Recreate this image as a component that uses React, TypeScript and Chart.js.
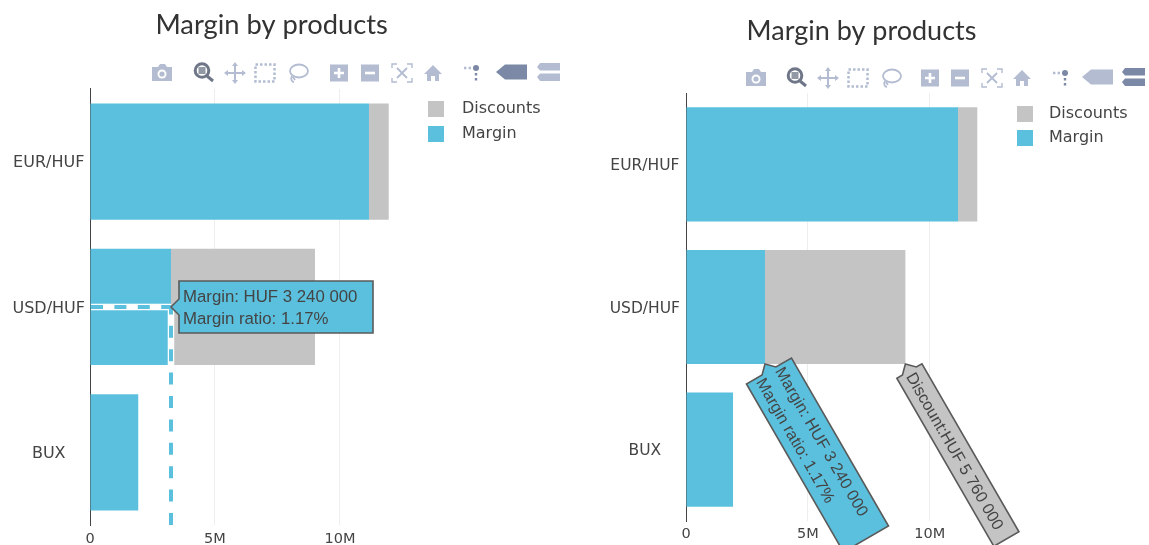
import React, { useEffect, useRef } from "react";
import { Chart, registerables } from "chart.js";

Chart.register(...registerables);

const categories = ["EUR/HUF", "USD/HUF", "BUX"];
const marginValues = [11160000, 3240000, 1930000];
const discountValues = [790000, 5760000, 0];
const xTickValues = [0, 5000000, 10000000];
const xTickLabels = ["0", "5M", "10M"];
const xMax = 12550000;
const titleText = "Margin by products";
const marginLabel = "Margin";
const discountLabel = "Discounts";
const marginTipLines = ["Margin: HUF 3 240 000", "Margin ratio: 1.17%"];
const discountTipLines = ["Discount:HUF 5 760 000"];
const BLUE = "#5bc0de";
const GREY = "#c4c4c4";

const swatch = (color: string, w: number) => {
  const c = document.createElement("canvas");
  c.width = w;
  c.height = 16;
  const ctx = c.getContext("2d")!;
  ctx.fillStyle = color;
  ctx.fillRect(0, 0, 16, 16);
  return c;
};

function drawTip(ctx: CanvasRenderingContext2D, tipX: number, tipY: number, angle: number, w: number, h: number, fill: string, lines: string[], textX: number, fontSize: number) {
  ctx.save();
  ctx.translate(tipX, tipY);
  ctx.rotate(angle);
  ctx.beginPath();
  ctx.moveTo(0, 0);
  ctx.lineTo(8, -8);
  ctx.lineTo(8, -h / 2);
  ctx.lineTo(8 + w, -h / 2);
  ctx.lineTo(8 + w, h / 2);
  ctx.lineTo(8, h / 2);
  ctx.lineTo(8, 8);
  ctx.closePath();
  ctx.fillStyle = fill;
  ctx.fill();
  ctx.lineWidth = 1.6;
  ctx.strokeStyle = "#5a5a5a";
  ctx.stroke();
  ctx.fillStyle = "#444444";
  ctx.font = `${fontSize}px "Liberation Sans", Arial, sans-serif`;
  ctx.textBaseline = "middle";
  ctx.textAlign = "left";
  const lh = 22;
  lines.forEach((l, i) => ctx.fillText(l, textX, (i - (lines.length - 1) / 2) * lh + 1.5));
  ctx.restore();
}

const spikePlugin = {
  id: "spikes",
  afterDatasetsDraw(chart: any) {
    const ctx = chart.ctx;
    const x = chart.scales.x.getPixelForValue(marginValues[1]);
    const y = chart.scales.y.getPixelForValue(1);
    const left = chart.chartArea.left + 1;
    const bottom = chart.chartArea.bottom;
    ctx.save();
    for (const [w, color, dash] of [[6.5, "#ffffff", []], [4, BLUE, [12, 11.4]]] as any) {
      ctx.lineWidth = w;
      ctx.strokeStyle = color;
      ctx.setLineDash(dash);
      ctx.beginPath();
      ctx.moveTo(left, y);
      ctx.lineTo(x, y);
      ctx.stroke();
      ctx.beginPath();
      ctx.moveTo(x, bottom);
      ctx.lineTo(x, y);
      ctx.stroke();
    }
    ctx.restore();
  },
  afterDraw(chart: any) {
    drawTip(chart.ctx, chart.scales.x.getPixelForValue(marginValues[1]), chart.scales.y.getPixelForValue(1), 0, 194, 52, BLUE, marginTipLines, 12, 16.8);
  },
};

const rotatedTipsPlugin = {
  id: "rotatedTips",
  afterDraw(chart: any) {
    const bar = chart.getDatasetMeta(0).data[1];
    const bottom = bar.y + bar.height / 2;
    const a = Math.PI / 3;
    const x = chart.scales.x;
    drawTip(chart.ctx, x.getPixelForValue(marginValues[1]), bottom, a, 194, 52, BLUE, marginTipLines, 11, 16.3);
    drawTip(chart.ctx, x.getPixelForValue(marginValues[1] + discountValues[1]), bottom, a, 194, 29, GREY, discountTipLines, 11, 16.3);
  },
};

const FONT = '"DejaVu Sans", Verdana, sans-serif';

type Cfg = {
  axisW: number; padLeft: number; padRight: number; titleTop: number; titleBottom: number; titleSize: number;
  xH: number; xPad: number; yPad: number; yFont: number; legendLeft: number; legendTop: number; swatchW: number; plugin: any;
};

function makeChart(canvas: HTMLCanvasElement, cfg: Cfg) {
  const legendPlacer = {
    id: "legendPlacer",
    afterLayout(chart: any) {
      const lg = chart.legend;
      lg.left = cfg.legendLeft;
      lg.top = cfg.legendTop;
      lg.width = 135;
      lg.height = 70;
      lg.right = lg.left + lg.width;
      lg.bottom = lg.top + lg.height;
    },
  };
  return new Chart(canvas, {
    type: "bar",
    data: {
      labels: categories,
      datasets: [
        { label: marginLabel, data: marginValues, backgroundColor: BLUE, categoryPercentage: 1, barPercentage: 0.8 },
        { label: discountLabel, data: discountValues, backgroundColor: GREY, categoryPercentage: 1, barPercentage: 0.8 },
      ],
    },
    plugins: [cfg.plugin, legendPlacer],
    options: {
      indexAxis: "y",
      animation: false,
      responsive: false,
      devicePixelRatio: 1,
      layout: { padding: { left: cfg.padLeft, right: cfg.padRight, top: 0, bottom: 0 } },
      scales: {
        x: {
          stacked: true,
          min: 0,
          max: xMax,
          afterBuildTicks: (s: any) => { s.ticks = xTickValues.map((value) => ({ value })); },
          afterFit: (s: any) => { s.height = cfg.xH; },
          grid: { color: "#eeeeee", drawTicks: false },
          border: { display: false },
          ticks: {
            padding: cfg.xPad, maxRotation: 0, color: "#444444", font: { family: FONT, size: 14.5 },
            callback: (_v: any, i: number) => xTickLabels[i],
          },
        },
        y: {
          stacked: true,
          afterFit: (s: any) => { s.width = cfg.axisW; },
          grid: { display: false, drawTicks: false },
          border: { display: true, color: "#444444", width: 1 },
          ticks: { padding: cfg.yPad, labelOffset: 1.5, crossAlign: "center", color: "#444444", font: { family: FONT, size: cfg.yFont } },
        },
      },
      plugins: {
        tooltip: { enabled: false },
        title: {
          display: true, text: titleText, color: "#333333",
          font: { family: '"Lato", "Open Sans", sans-serif', size: cfg.titleSize, weight: "normal" },
          padding: { top: cfg.titleTop, bottom: cfg.titleBottom },
        },
        legend: {
          position: "right", align: "start", reverse: true,
          labels: {
            usePointStyle: true, pointStyleWidth: cfg.swatchW, boxHeight: 16, padding: 8.5, color: "#444444",
            font: { family: FONT, size: 16 },
            generateLabels: (chart: any) =>
              Chart.defaults.plugins.legend.labels.generateLabels(chart).map((it: any) => ({
                ...it,
                pointStyle: swatch(it.datasetIndex === 0 ? BLUE : GREY, cfg.swatchW),
              })),
          },
        },
      },
    } as any,
  });
}

const LIGHT = "#b3bcd1";
const DARK = "#7b89a6";
const ZOOMC = "#6f7687";

function Tool({ x, y, children }: any) {
  return <g transform={`translate(${x} ${y})`}>{children}</g>;
}

function Modebar({ xs, y, compareDark }: { xs: number[]; y: number; compareDark: boolean }) {
  return (
    <svg width={1149} height={545} style={{ position: "absolute", left: 0, top: 0, pointerEvents: "none" }}>
      <Tool x={xs[0]} y={y}>
        <path d="M-10 -6 L-4 -6 L-2 -9 L3 -9 L5 -6 L10 -6 L10 8 L-10 8 Z" fill={LIGHT} />
        <circle r={4.5} cy={1} fill="#fff" />
        <circle r={2.6} cy={1} fill={LIGHT} />
      </Tool>
      <Tool x={xs[1]} y={y}>
        <circle r={6.8} cx={-2} cy={-2.5} fill="none" stroke={ZOOMC} strokeWidth={3} />
        <rect x={-5.5} y={-6} width={7} height={7} fill={ZOOMC} opacity={0.75} />
        <path d="M3 3 L9 8" stroke={ZOOMC} strokeWidth={3} />
      </Tool>
      <Tool x={xs[2]} y={y}>
        <path d="M0 -9 V9 M-9 0 H9" stroke={LIGHT} strokeWidth={2} />
        <path d="M0 -11 L-3 -7 H3 Z M0 11 L-3 7 H3 Z M-11 0 L-7 -3 V3 Z M11 0 L7 -3 V3 Z" fill={LIGHT} />
      </Tool>
      <Tool x={xs[3]} y={y}>
        <rect x={-9.5} y={-8.5} width={19} height={17} fill="none" stroke={LIGHT} strokeWidth={2.5} strokeDasharray="2.5 2" />
      </Tool>
      <Tool x={xs[4]} y={y}>
        <ellipse cx={1} cy={-2} rx={9} ry={6.5} fill="none" stroke={LIGHT} strokeWidth={1.8} />
        <path d="M-6 3 C-8 6 -6 9 -4 9 M-5 4 L-3 7" fill="none" stroke={LIGHT} strokeWidth={1.8} />
      </Tool>
      <Tool x={xs[5]} y={y}>
        <rect x={-9} y={-8.5} width={18} height={17} fill={LIGHT} />
        <path d="M0 -5 V5 M-5 0 H5" stroke="#fff" strokeWidth={2.6} />
      </Tool>
      <Tool x={xs[6]} y={y}>
        <rect x={-9} y={-8.5} width={18} height={17} fill={LIGHT} />
        <path d="M-5 0 H5" stroke="#fff" strokeWidth={2.6} />
      </Tool>
      <Tool x={xs[7]} y={y}>
        <path d="M-10 -5 V-9 H-5 M5 -9 H10 V-5 M10 5 V9 H5 M-5 9 H-10 V5" fill="none" stroke={LIGHT} strokeWidth={1.4} />
        <path d="M-5 -5 L5 5 M5 -5 L-5 5" stroke={LIGHT} strokeWidth={1.8} />
      </Tool>
      <Tool x={xs[8]} y={y}>
        <path d="M0 -8 L-9 1 L-6 1 L-6 8 L-2 8 L-2 3 L2 3 L2 8 L6 8 L6 1 L9 1 Z" fill={LIGHT} />
      </Tool>
      <Tool x={xs[9]} y={y}>
        <circle cx={3} cy={-5} r={3} fill={DARK} />
        <path d="M-9 -5 H-1" stroke={LIGHT} strokeWidth={2.4} strokeDasharray="2.4 2.2" />
        <path d="M3 0 V9" stroke={DARK} strokeWidth={2.4} strokeDasharray="2.4 2.6" />
      </Tool>
      <Tool x={xs[10]} y={y - 1}>
        <path d="M-16 0 L-7 -7.5 H15 V7.5 H-7 Z" fill={compareDark ? DARK : LIGHT} />
      </Tool>
      <Tool x={xs[11]} y={y - 1}>
        <path d="M-9 -9 H11 V-1.5 H-9 L-12 -5 Z M-9 1.5 H11 V9 H-9 L-12 5 Z" fill={compareDark ? LIGHT : DARK} />
      </Tool>
    </svg>
  );
}

const leftTools = [162, 204, 235, 265, 298, 339, 370, 402, 433, 473, 512, 549];
const rightTools = [756, 797, 828, 858, 891, 930, 960, 992, 1022, 1062, 1098, 1134];

export default function App() {
  const a = useRef<HTMLCanvasElement>(null);
  const b = useRef<HTMLCanvasElement>(null);
  useEffect(() => {
    const c1 = makeChart(a.current!, {
      padLeft: 28.4, axisW: 81.6, padRight: 27.2, titleTop: 9, titleBottom: 47.2, titleSize: 27.3,
      xH: 20, xPad: 6, yPad: 5, yFont: 16, legendLeft: 439.5, legendTop: 92.5, swatchW: 26, plugin: spikePlugin,
    });
    const c2 = makeChart(b.current!, {
      padLeft: 22, axisW: 84, padRight: 25, titleTop: 15, titleBottom: 45.6, titleSize: 27,
      xH: 24, xPad: 5, yPad: 6, yFont: 15.5, legendLeft: 428.5, legendTop: 97, swatchW: 24, plugin: rotatedTipsPlugin,
    });
    return () => { c1.destroy(); c2.destroy(); };
  }, []);
  return (
    <div style={{ position: "fixed", left: 0, top: 0, width: 1149, height: 545, background: "#fff", overflow: "hidden" }}>
      <canvas ref={a} width={582} height={545} style={{ position: "absolute", left: -20, top: 0, width: 582, height: 545 }} />
      <canvas ref={b} width={566} height={545} style={{ position: "absolute", left: 580, top: 0, width: 566, height: 545 }} />
      <Modebar xs={leftTools} y={73} compareDark={true} />
      <Modebar xs={rightTools} y={78} compareDark={false} />
    </div>
  );
}
